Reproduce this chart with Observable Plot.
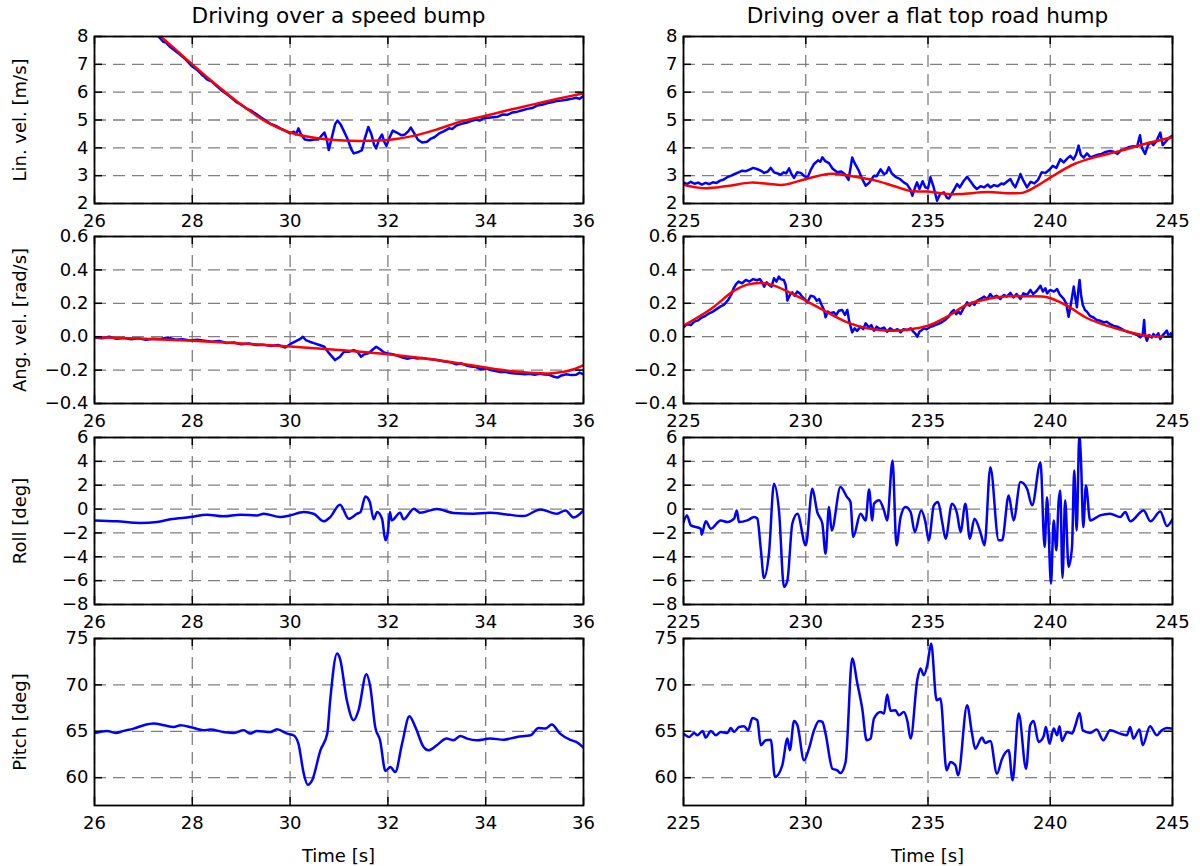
<!DOCTYPE html>
<html>
<head>
<meta charset="utf-8">
<script src="https://cdn.jsdelivr.net/npm/d3@7"></script>
<script src="https://cdn.jsdelivr.net/npm/@observablehq/plot@0.6"></script>
<style>
  body { margin: 0; background: #fff; }
  #fig { position: relative; width: 1200px; height: 866px; font-family: "DejaVu Sans", sans-serif; color: #000; overflow: hidden; }
  #fig svg { position: absolute; overflow: visible; }
  .title { position: absolute; width: 489px; text-align: center; font-size: 21.6px; line-height: 1; white-space: nowrap; }
  .xlabel { position: absolute; width: 489px; text-align: center; font-size: 18px; line-height: 1; white-space: nowrap; }
</style>
</head>
<body>
<div id="fig"></div>
<script>
// ---- Column titles, axis labels and ticks ----
const columnTitles = ["Driving over a speed bump", "Driving over a flat top road hump"];
const rowLabels = ["Lin. vel. [m/s]", "Ang. vel. [rad/s]", "Roll [deg]", "Pitch [deg]"];
const xLabel = "Time [s]";
const bumpTimeTicks = [26, 28, 30, 32, 34, 36];
const humpTimeTicks = [225, 230, 235, 240, 245];
const linVelTicks = [2, 3, 4, 5, 6, 7, 8];
const angVelTicks = [-0.4, -0.2, 0.0, 0.2, 0.4, 0.6];
const rollTicks = [-8, -6, -4, -2, 0, 2, 4, 6];
const pitchTicks = [60, 65, 70, 75];

// ---- Speed bump: [time s, value] ----
const bumpLinVelMeas = [
  [27.20, 8.15], [27.31, 8.00], [27.40, 7.82], [27.46, 7.78], [27.55, 7.62], [27.70, 7.42], [27.85, 7.20],
  [28.00, 6.92], [28.10, 6.80], [28.20, 6.62], [28.25, 6.55], [28.30, 6.46], [28.40, 6.38], [28.50, 6.22],
  [28.60, 6.06], [28.70, 5.93], [28.80, 5.80], [28.90, 5.64], [29.00, 5.55], [29.10, 5.42], [29.20, 5.34],
  [29.30, 5.22], [29.40, 5.10], [29.50, 4.98], [29.60, 4.86], [29.70, 4.80], [29.80, 4.70], [29.90, 4.62],
  [30.00, 4.52], [30.08, 4.58], [30.12, 4.48], [30.17, 4.70], [30.22, 4.50], [30.30, 4.30], [30.40, 4.27],
  [30.50, 4.30], [30.58, 4.30], [30.65, 4.45], [30.70, 4.55], [30.75, 4.30], [30.79, 3.92], [30.85, 4.35],
  [30.92, 4.85], [30.97, 4.98], [31.03, 4.85], [31.10, 4.60], [31.18, 4.30], [31.25, 3.95], [31.30, 3.80],
  [31.40, 3.85], [31.47, 3.92], [31.53, 4.35], [31.60, 4.75], [31.66, 4.50], [31.72, 4.10], [31.76, 3.98],
  [31.82, 4.30], [31.88, 4.48], [31.93, 4.20], [31.97, 4.07], [32.03, 4.35], [32.10, 4.62], [32.18, 4.55],
  [32.28, 4.45], [32.35, 4.48], [32.42, 4.60], [32.47, 4.73], [32.53, 4.55], [32.62, 4.28], [32.70, 4.19],
  [32.80, 4.22], [32.87, 4.32], [32.95, 4.38], [33.05, 4.52], [33.15, 4.60], [33.25, 4.70], [33.32, 4.68],
  [33.40, 4.80], [33.50, 4.86], [33.60, 4.90], [33.70, 4.96], [33.80, 5.02], [33.88, 4.98], [33.95, 5.06],
  [34.05, 5.08], [34.15, 5.10], [34.25, 5.12], [34.35, 5.20], [34.45, 5.19], [34.55, 5.27], [34.65, 5.30],
  [34.75, 5.35], [34.85, 5.40], [34.95, 5.43], [35.05, 5.52], [35.15, 5.55], [35.25, 5.60], [35.35, 5.64],
  [35.45, 5.68], [35.55, 5.70], [35.65, 5.73], [35.75, 5.76], [35.85, 5.80], [35.92, 5.76], [36.00, 5.86]
];
const bumpLinVelRef = [
  [27.20, 8.22], [27.50, 7.78], [28.00, 7.00], [28.50, 6.25], [29.00, 5.55], [29.50, 4.95], [30.00, 4.55],
  [30.50, 4.36], [31.00, 4.27], [31.50, 4.25], [32.00, 4.28], [32.50, 4.42], [33.00, 4.66], [33.50, 4.95],
  [34.00, 5.15], [34.50, 5.37], [35.00, 5.57], [35.50, 5.77], [36.00, 5.96]
];
const bumpAngVelMeas = [
  [26.00, -0.005], [26.15, -0.010], [26.30, 0.000], [26.45, -0.012], [26.60, -0.008], [26.75, -0.015],
  [26.90, -0.010], [27.05, -0.018], [27.20, -0.012], [27.35, -0.014], [27.50, -0.005], [27.65, -0.018],
  [27.80, -0.015], [27.95, -0.022], [28.10, -0.018], [28.25, -0.024], [28.40, -0.030], [28.55, -0.025],
  [28.70, -0.038], [28.85, -0.035], [29.00, -0.045], [29.15, -0.040], [29.30, -0.050], [29.45, -0.048],
  [29.60, -0.055], [29.75, -0.050], [29.90, -0.065], [30.00, -0.045], [30.10, -0.030], [30.20, -0.015],
  [30.26, 0.000], [30.32, -0.020], [30.40, -0.030], [30.50, -0.040], [30.60, -0.050], [30.70, -0.060],
  [30.80, -0.100], [30.92, -0.140], [31.02, -0.120], [31.10, -0.090], [31.20, -0.090], [31.30, -0.080],
  [31.38, -0.090], [31.45, -0.120], [31.52, -0.105], [31.60, -0.100], [31.68, -0.080], [31.76, -0.060],
  [31.84, -0.075], [31.92, -0.095], [32.00, -0.100], [32.10, -0.105], [32.20, -0.115], [32.30, -0.125],
  [32.40, -0.132], [32.50, -0.125], [32.60, -0.130], [32.70, -0.128], [32.80, -0.132], [32.90, -0.135],
  [33.00, -0.140], [33.10, -0.145], [33.20, -0.150], [33.30, -0.155], [33.40, -0.165], [33.50, -0.160],
  [33.60, -0.172], [33.70, -0.178], [33.80, -0.182], [33.90, -0.195], [34.00, -0.190], [34.10, -0.200],
  [34.20, -0.205], [34.30, -0.212], [34.40, -0.210], [34.50, -0.218], [34.60, -0.220], [34.70, -0.222],
  [34.80, -0.225], [34.90, -0.222], [35.00, -0.228], [35.10, -0.222], [35.20, -0.226], [35.30, -0.228],
  [35.40, -0.240], [35.47, -0.245], [35.55, -0.232], [35.65, -0.225], [35.75, -0.230], [35.85, -0.228],
  [35.92, -0.215], [36.00, -0.225]
];
const bumpAngVelRef = [
  [26.0, -0.004], [27.0, -0.012], [28.0, -0.024], [29.0, -0.040], [30.0, -0.058], [31.0, -0.080],
  [32.0, -0.105], [33.0, -0.140], [34.0, -0.185], [34.5, -0.205], [35.0, -0.218], [35.3, -0.220],
  [35.6, -0.210], [35.8, -0.195], [36.0, -0.170]
];
const bumpRoll = [
  [26.00, -0.95], [26.46, -1.03], [26.94, -1.17], [27.28, -1.09], [27.55, -0.86], [27.96, -0.67],
  [28.30, -0.47], [28.64, -0.61], [28.98, -0.47], [29.32, -0.53], [29.46, -0.39], [29.80, -0.67],
  [30.00, -0.53], [30.28, -0.25], [30.48, -0.39], [30.69, -1.03], [30.82, -0.67], [31.02, 0.36],
  [31.20, -0.81], [31.37, -0.39], [31.44, -0.25], [31.54, 1.06], [31.63, 0.59], [31.71, -0.86],
  [31.78, -0.25], [31.88, -0.81], [31.95, -2.62], [32.00, -1.92], [32.04, -0.25], [32.08, -0.95],
  [32.25, -0.31], [32.32, -0.86], [32.53, 0.03], [32.66, -0.31], [33.00, 0.00], [33.34, -0.33],
  [33.75, -0.39], [34.09, -0.31], [34.43, -0.45], [34.77, -0.59], [35.12, -0.03], [35.46, -0.39],
  [35.63, -0.11], [35.80, -0.70], [36.00, -0.11]
];
const bumpPitch = [
  [26.00, 64.82], [26.26, 65.04], [26.43, 64.82], [26.60, 65.04], [26.80, 65.29], [27.01, 65.65],
  [27.21, 65.83], [27.42, 65.65], [27.62, 65.47], [27.76, 65.65], [28.00, 65.40], [28.23, 65.11],
  [28.37, 65.18], [28.64, 64.93], [28.85, 64.82], [29.05, 65.11], [29.19, 64.75], [29.32, 65.04],
  [29.60, 64.93], [29.73, 65.22], [29.94, 64.75], [30.07, 64.57], [30.17, 63.67], [30.28, 60.43],
  [30.36, 59.24], [30.45, 59.71], [30.62, 62.95], [30.76, 64.75], [30.82, 68.35], [30.96, 73.38],
  [31.02, 72.84], [31.16, 68.35], [31.30, 66.19], [31.40, 67.27], [31.56, 71.15], [31.64, 69.78],
  [31.74, 65.47], [31.84, 64.03], [31.95, 60.72], [32.05, 61.15], [32.15, 60.61], [32.29, 63.67],
  [32.44, 66.62], [32.56, 65.47], [32.73, 63.31], [32.83, 62.95], [33.00, 63.49], [33.20, 64.21],
  [33.34, 64.03], [33.48, 64.50], [33.62, 64.21], [33.82, 64.03], [34.09, 64.21], [34.37, 64.10],
  [34.64, 64.39], [34.92, 64.57], [35.08, 65.36], [35.22, 65.29], [35.35, 65.72], [35.52, 64.75],
  [35.72, 64.10], [35.85, 63.85], [36.00, 63.24]
];

// ---- Flat top road hump: [time s, value] ----
const humpLinVelMeas = [
  [225.00, 2.76], [225.15, 2.70], [225.30, 2.78], [225.45, 2.71], [225.60, 2.75], [225.75, 2.68],
  [225.90, 2.74], [226.05, 2.70], [226.20, 2.76], [226.35, 2.74], [226.50, 2.82], [226.65, 2.86],
  [226.80, 2.95], [226.95, 3.00], [227.10, 3.06], [227.25, 3.12], [227.40, 3.18], [227.55, 3.16],
  [227.70, 3.22], [227.85, 3.28], [228.00, 3.24], [228.16, 3.18], [228.30, 3.10], [228.45, 3.15],
  [228.57, 3.28], [228.70, 3.12], [228.85, 3.08], [228.97, 3.03], [229.10, 3.12], [229.20, 3.08],
  [229.32, 3.26], [229.42, 3.05], [229.52, 2.92], [229.65, 3.12], [229.80, 3.10], [229.95, 2.98],
  [230.07, 2.92], [230.20, 3.20], [230.34, 3.42], [230.50, 3.55], [230.60, 3.50], [230.68, 3.66],
  [230.80, 3.52], [230.95, 3.45], [231.10, 3.25], [231.29, 3.12], [231.45, 3.15], [231.60, 3.05],
  [231.75, 2.85], [231.90, 3.65], [232.00, 3.45], [232.17, 3.18], [232.30, 2.90], [232.45, 2.64],
  [232.60, 2.75], [232.79, 3.00], [232.90, 2.98], [233.06, 3.23], [233.20, 3.05], [233.30, 3.10],
  [233.40, 3.30], [233.52, 3.08], [233.67, 2.96], [233.85, 2.88], [234.01, 2.76], [234.15, 2.68],
  [234.28, 2.50], [234.36, 2.28], [234.48, 2.60], [234.55, 2.76], [234.65, 2.52], [234.78, 2.80],
  [234.89, 2.58], [235.00, 2.55], [235.10, 2.94], [235.22, 2.62], [235.37, 2.10], [235.50, 2.35],
  [235.65, 2.40], [235.78, 2.20], [235.85, 2.18], [236.00, 2.40], [236.10, 2.55], [236.19, 2.70],
  [236.30, 2.58], [236.45, 2.80], [236.60, 2.96], [236.75, 2.78], [236.88, 2.62], [237.00, 2.52],
  [237.15, 2.62], [237.30, 2.58], [237.45, 2.68], [237.55, 2.58], [237.70, 2.66], [237.85, 2.62],
  [238.00, 2.72], [238.10, 2.69], [238.25, 2.80], [238.37, 2.88], [238.47, 2.70], [238.57, 2.58],
  [238.70, 2.85], [238.78, 3.06], [238.90, 2.82], [239.05, 2.58], [239.20, 2.78], [239.35, 2.72],
  [239.50, 2.85], [239.65, 3.12], [239.80, 3.10], [239.95, 3.20], [240.10, 3.35], [240.25, 3.28],
  [240.41, 3.59], [240.55, 3.48], [240.70, 3.62], [240.82, 3.71], [240.95, 3.58], [241.05, 3.75],
  [241.16, 4.08], [241.25, 3.75], [241.37, 3.65], [241.50, 3.80], [241.65, 3.66], [241.77, 3.70],
  [241.95, 3.75], [242.10, 3.78], [242.25, 3.85], [242.45, 3.89], [242.60, 3.86], [242.75, 3.78],
  [242.90, 3.92], [243.05, 3.95], [243.20, 4.02], [243.40, 4.06], [243.55, 4.04], [243.67, 4.45],
  [243.75, 4.00], [243.88, 3.78], [244.00, 4.10], [244.12, 4.20], [244.22, 4.10], [244.35, 4.25],
  [244.50, 4.55], [244.60, 4.10], [244.70, 4.20], [244.85, 4.35], [245.00, 4.44]
];
const humpLinVelRef = [
  [225.00, 2.67], [225.84, 2.55], [226.80, 2.63], [227.75, 2.75], [228.43, 2.71], [229.10, 2.67],
  [230.00, 2.88], [230.88, 3.06], [231.30, 3.06], [231.83, 2.99], [232.79, 2.84], [233.60, 2.63],
  [234.29, 2.45], [235.00, 2.43], [235.78, 2.34], [236.33, 2.34], [237.42, 2.41], [238.37, 2.37],
  [238.90, 2.39], [239.46, 2.63], [240.00, 2.93], [240.96, 3.41], [241.77, 3.65], [242.86, 3.89],
  [243.82, 4.13], [245.00, 4.38]
];
const humpAngVelMeas = [
  [225.00, 0.056], [225.15, 0.075], [225.30, 0.070], [225.44, 0.090], [225.60, 0.098], [225.75, 0.115],
  [225.90, 0.125], [226.05, 0.140], [226.20, 0.150], [226.35, 0.165], [226.50, 0.180], [226.65, 0.190],
  [226.80, 0.215], [226.95, 0.250], [227.05, 0.290], [227.15, 0.315], [227.25, 0.330], [227.40, 0.320],
  [227.55, 0.340], [227.70, 0.330], [227.85, 0.345], [228.00, 0.338], [228.12, 0.345], [228.22, 0.325],
  [228.30, 0.300], [228.40, 0.325], [228.50, 0.310], [228.60, 0.300], [228.70, 0.350], [228.80, 0.330],
  [228.90, 0.360], [228.97, 0.345], [229.10, 0.340], [229.18, 0.310], [229.25, 0.216], [229.35, 0.250],
  [229.45, 0.265], [229.55, 0.245], [229.65, 0.270], [229.75, 0.260], [229.85, 0.240], [229.95, 0.225],
  [230.07, 0.206], [230.20, 0.245], [230.34, 0.240], [230.45, 0.215], [230.55, 0.225], [230.65, 0.190],
  [230.75, 0.160], [230.81, 0.116], [230.90, 0.150], [231.00, 0.140], [231.15, 0.146], [231.25, 0.130],
  [231.35, 0.155], [231.49, 0.160], [231.60, 0.130], [231.70, 0.160], [231.78, 0.090], [231.90, 0.026],
  [232.00, 0.050], [232.10, 0.035], [232.24, 0.060], [232.35, 0.045], [232.45, 0.080], [232.58, 0.055],
  [232.68, 0.070], [232.79, 0.036], [232.90, 0.060], [233.05, 0.045], [233.20, 0.055], [233.33, 0.030],
  [233.45, 0.050], [233.60, 0.035], [233.75, 0.045], [233.88, 0.026], [234.00, 0.045], [234.15, 0.040],
  [234.29, 0.050], [234.40, 0.030], [234.50, 0.015], [234.56, 0.000], [234.65, 0.030], [234.75, 0.040],
  [234.83, 0.050], [234.95, 0.045], [235.10, 0.060], [235.24, 0.066], [235.40, 0.075], [235.55, 0.085],
  [235.70, 0.100], [235.85, 0.120], [235.95, 0.145], [236.06, 0.160], [236.15, 0.135], [236.25, 0.150],
  [236.33, 0.136], [236.45, 0.170], [236.60, 0.206], [236.70, 0.185], [236.80, 0.205], [236.90, 0.190],
  [237.00, 0.215], [237.14, 0.226], [237.30, 0.240], [237.42, 0.225], [237.55, 0.256], [237.65, 0.235],
  [237.80, 0.245], [237.96, 0.226], [238.10, 0.250], [238.22, 0.240], [238.37, 0.262], [238.50, 0.235],
  [238.62, 0.255], [238.78, 0.226], [238.90, 0.260], [239.05, 0.250], [239.19, 0.280], [239.30, 0.255],
  [239.45, 0.275], [239.60, 0.305], [239.70, 0.270], [239.80, 0.290], [239.87, 0.260], [240.00, 0.280],
  [240.15, 0.270], [240.28, 0.285], [240.40, 0.250], [240.55, 0.226], [240.65, 0.200], [240.75, 0.120],
  [240.85, 0.200], [240.96, 0.300], [241.03, 0.230], [241.09, 0.176], [241.15, 0.280], [241.20, 0.340],
  [241.26, 0.250], [241.33, 0.190], [241.42, 0.160], [241.50, 0.150], [241.62, 0.125], [241.77, 0.115],
  [241.90, 0.100], [242.05, 0.095], [242.20, 0.085], [242.31, 0.090], [242.45, 0.075], [242.60, 0.065],
  [242.75, 0.060], [242.86, 0.052], [243.00, 0.040], [243.15, 0.030], [243.27, 0.025], [243.40, 0.018],
  [243.55, 0.010], [243.68, -0.004], [243.78, 0.010], [243.84, 0.100], [243.88, 0.010], [243.95, -0.024],
  [244.05, 0.010], [244.15, -0.005], [244.22, 0.016], [244.32, 0.000], [244.42, 0.020], [244.50, -0.014],
  [244.60, 0.010], [244.70, 0.025], [244.77, 0.036], [244.85, 0.000], [244.93, 0.020], [245.00, -0.004]
];
const humpAngVelRef = [
  [225.00, 0.066], [226.12, 0.166], [227.07, 0.276], [227.61, 0.312], [228.16, 0.322], [228.70, 0.306],
  [229.52, 0.252], [230.20, 0.200], [230.88, 0.146], [231.70, 0.086], [232.52, 0.050], [233.33, 0.036],
  [234.15, 0.042], [235.00, 0.066], [235.78, 0.120], [236.60, 0.192], [237.42, 0.226], [238.23, 0.242],
  [239.05, 0.242], [239.87, 0.236], [240.68, 0.186], [241.50, 0.112], [242.31, 0.066], [243.13, 0.032],
  [243.95, 0.006], [245.00, 0.000]
];
const humpRoll = [
  [225.00, -1.09], [225.14, -0.53], [225.30, -1.37], [225.71, -1.65], [225.74, -2.15], [225.91, -1.03],
  [226.12, -1.65], [226.52, -0.95], [226.80, -1.09], [227.07, -0.81], [227.18, -0.11], [227.27, -1.09],
  [227.61, -0.95], [227.89, -0.67], [228.02, -0.81], [228.16, -3.32], [228.29, -5.77], [228.50, -3.60],
  [228.70, 2.12], [228.91, -0.25], [229.11, -6.53], [229.25, -5.97], [229.45, -1.23], [229.66, -0.39],
  [230.00, -3.04], [230.27, 1.70], [230.47, -0.25], [230.68, -1.23], [230.81, -3.74], [230.95, 0.17],
  [231.06, -1.79], [231.42, 1.84], [231.69, 1.00], [231.83, 0.59], [231.94, -2.34], [232.24, -0.39],
  [232.45, -0.95], [232.59, 1.65], [232.72, -0.95], [232.79, 0.45], [233.00, 0.73], [233.20, -0.11],
  [233.33, -0.95], [233.55, 4.07], [233.71, -3.04], [233.88, -0.67], [234.08, 0.17], [234.29, -0.25],
  [234.46, -1.92], [234.72, -0.11], [234.89, -1.03], [235.03, -2.62], [235.24, 0.31], [235.41, 0.59],
  [235.58, -1.09], [235.72, -2.48], [235.98, 0.45], [236.19, -0.39], [236.33, -1.92], [236.53, 0.45],
  [236.71, -2.48], [236.90, -0.81], [237.14, -1.92], [237.31, -3.04], [237.55, 3.51], [237.89, -2.62],
  [238.03, -2.62], [238.30, 1.14], [238.50, -0.95], [238.78, 2.26], [239.05, 1.70], [239.26, 0.31],
  [239.60, 3.93], [239.77, -3.18], [239.87, 1.00], [240.03, -6.25], [240.14, -0.95], [240.25, -3.46],
  [240.34, 0.59], [240.41, 1.56], [240.50, -5.77], [240.61, 0.73], [240.75, -4.85], [240.89, -3.18],
  [240.98, 3.24], [241.08, -1.79], [241.19, 6.20], [241.26, 3.93], [241.35, -1.51], [241.46, 1.98],
  [241.63, -0.95], [242.04, -0.53], [242.45, -0.39], [242.86, -0.67], [243.07, -0.25], [243.27, -1.03],
  [243.82, -0.11], [244.10, -1.03], [244.50, -0.20], [244.77, -1.42], [245.00, -0.86]
];
const humpPitch = [
  [225.00, 64.75], [225.23, 64.39], [225.44, 64.82], [225.57, 64.57], [225.78, 65.04], [225.91, 64.32],
  [226.12, 65.04], [226.32, 64.57], [226.52, 64.93], [226.80, 64.82], [226.93, 65.36], [227.07, 64.93],
  [227.27, 65.47], [227.48, 65.54], [227.64, 65.11], [227.82, 66.44], [228.02, 66.19], [228.16, 63.49],
  [228.36, 64.03], [228.57, 64.10], [228.74, 60.07], [229.04, 61.33], [229.25, 64.21], [229.35, 62.95],
  [229.52, 66.12], [229.66, 65.65], [229.93, 61.87], [230.13, 63.13], [230.34, 65.11], [230.54, 66.12],
  [230.68, 66.01], [230.81, 64.75], [231.09, 60.97], [231.29, 60.79], [231.42, 60.50], [231.63, 61.69],
  [231.90, 72.84], [232.11, 70.14], [232.31, 67.45], [232.49, 64.03], [232.65, 64.21], [232.79, 66.37],
  [233.06, 67.09], [233.20, 66.91], [233.33, 68.96], [233.47, 67.20], [233.67, 67.27], [233.81, 66.73],
  [234.01, 67.09], [234.15, 66.19], [234.29, 64.21], [234.56, 70.50], [234.69, 71.76], [234.83, 71.04],
  [234.97, 72.12], [235.13, 74.46], [235.35, 68.35], [235.51, 68.53], [235.76, 60.79], [235.92, 61.69],
  [236.12, 61.33], [236.23, 60.25], [236.60, 67.81], [236.80, 64.75], [236.93, 63.13], [237.21, 64.32],
  [237.34, 63.74], [237.55, 63.96], [237.82, 60.43], [238.03, 62.05], [238.30, 62.95], [238.46, 59.71],
  [238.71, 66.91], [239.01, 60.97], [239.18, 65.65], [239.32, 66.12], [239.52, 63.85], [239.73, 64.46],
  [239.82, 65.47], [239.97, 63.67], [240.14, 65.29], [240.28, 64.57], [240.38, 65.54], [240.48, 63.96],
  [240.69, 64.93], [240.89, 64.75], [241.03, 65.65], [241.20, 66.98], [241.33, 65.11], [241.63, 64.82],
  [241.90, 65.18], [242.17, 64.03], [242.45, 65.11], [242.86, 64.75], [243.13, 64.57], [243.27, 65.47],
  [243.40, 64.21], [243.65, 65.18], [243.78, 63.49], [244.08, 65.54], [244.36, 64.57], [244.56, 65.11],
  [244.77, 65.36], [245.00, 65.29]
];

// ---- Layout of the 4 x 2 grid of axes (frame boxes in page pixels) ----
const FRAME_W = 489, FRAME_H = 167;
const colLeft = [94, 683];
const rowTop = [36, 236, 437, 638];
const SVG_W = 600, PAD_T = 10, PAD_B = 30;

const fig = document.getElementById("fig");
const measColor = "#0000ff", refColor = "#ff0000";
const gridStyle = { stroke: "#808080", strokeOpacity: 1, strokeWidth: 1.3, strokeDasharray: "12,7" };
const tickLen = 8;

function panel({ col, row, xDomain, xTicks, yDomain, yTicks, yFormat, yLabel, meas, ref, measCurve }) {
  const svgLeft = col * SVG_W;
  const marginLeft = colLeft[col] - svgLeft;
  const marginRight = SVG_W - marginLeft - FRAME_W;
  const tick = { stroke: "black", strokeWidth: 1.5 };
  const marks = [
    Plot.gridX(xTicks, gridStyle),
    Plot.gridY(yTicks, gridStyle),
    Plot.line(meas, { x: d => d[0], y: d => d[1], stroke: measColor, strokeWidth: 2.5, curve: measCurve, clip: true })
  ];
  if (ref) marks.push(Plot.line(ref, { x: d => d[0], y: d => d[1], stroke: refColor, strokeWidth: 2.5, curve: "catmull-rom", clip: true }));
  marks.push(
    // inward tick marks on all four sides
    Plot.tickX(xTicks, { x: d => d, insetTop: FRAME_H - tickLen, ...tick }),
    Plot.tickX(xTicks, { x: d => d, insetBottom: FRAME_H - tickLen, ...tick }),
    Plot.tickY(yTicks, { y: d => d, insetRight: FRAME_W - tickLen, ...tick }),
    Plot.tickY(yTicks, { y: d => d, insetLeft: FRAME_W - tickLen, ...tick }),
    Plot.axisX(xTicks, { tickSize: 0, tickPadding: 11, label: null }),
    Plot.axisY(yTicks, {
      tickSize: 0, tickPadding: 6, tickFormat: yFormat,
      label: yLabel, labelAnchor: "center", labelOffset: 81, labelArrow: "none"
    }),
    Plot.frame({ stroke: "black", strokeWidth: 1.8 })
  );
  const svg = Plot.plot({
    width: SVG_W,
    height: FRAME_H + PAD_T + PAD_B,
    marginLeft, marginRight, marginTop: PAD_T, marginBottom: PAD_B,
    x: { domain: xDomain },
    y: { domain: yDomain },
    style: { fontFamily: "DejaVu Sans", fontSize: "18px", color: "black", background: "transparent", overflow: "visible" },
    marks
  });
  svg.style.left = svgLeft + "px";
  svg.style.top = (rowTop[row] - PAD_T) + "px";
  fig.appendChild(svg);
}

const intFmt = d3.format("d");
const oneDec = d3.format(".1f");

// velocity rows are raw samples; attitude rows are drawn smooth
const rows = [
  { yDomain: [2, 8], yTicks: linVelTicks, yFormat: intFmt, curve: "linear", series: [[bumpLinVelMeas, bumpLinVelRef], [humpLinVelMeas, humpLinVelRef]] },
  { yDomain: [-0.4, 0.6], yTicks: angVelTicks, yFormat: oneDec, curve: "linear", series: [[bumpAngVelMeas, bumpAngVelRef], [humpAngVelMeas, humpAngVelRef]] },
  { yDomain: [-8, 6], yTicks: rollTicks, yFormat: intFmt, curve: "monotone-x", series: [[bumpRoll, null], [humpRoll, null]] },
  { yDomain: [57, 75], yTicks: pitchTicks, yFormat: intFmt, curve: "monotone-x", series: [[bumpPitch, null], [humpPitch, null]] }
];
const cols = [
  { xDomain: [26, 36], xTicks: bumpTimeTicks },
  { xDomain: [225, 245], xTicks: humpTimeTicks }
];

rows.forEach((r, ri) => {
  cols.forEach((c, ci) => {
    panel({
      col: ci, row: ri,
      xDomain: c.xDomain, xTicks: c.xTicks,
      yDomain: r.yDomain, yTicks: r.yTicks, yFormat: r.yFormat,
      yLabel: ci === 0 ? rowLabels[ri] : null,
      meas: r.series[ci][0], ref: r.series[ci][1], measCurve: r.curve
    });
  });
});

// column titles above, time labels below
cols.forEach((c, ci) => {
  const t = document.createElement("div");
  t.className = "title";
  t.textContent = columnTitles[ci];
  t.style.left = colLeft[ci] + "px";
  t.style.top = "5px";
  fig.appendChild(t);
  const xl = document.createElement("div");
  xl.className = "xlabel";
  xl.textContent = xLabel;
  xl.style.left = colLeft[ci] + "px";
  xl.style.top = "847px";
  fig.appendChild(xl);
});
</script>
</body>
</html>
